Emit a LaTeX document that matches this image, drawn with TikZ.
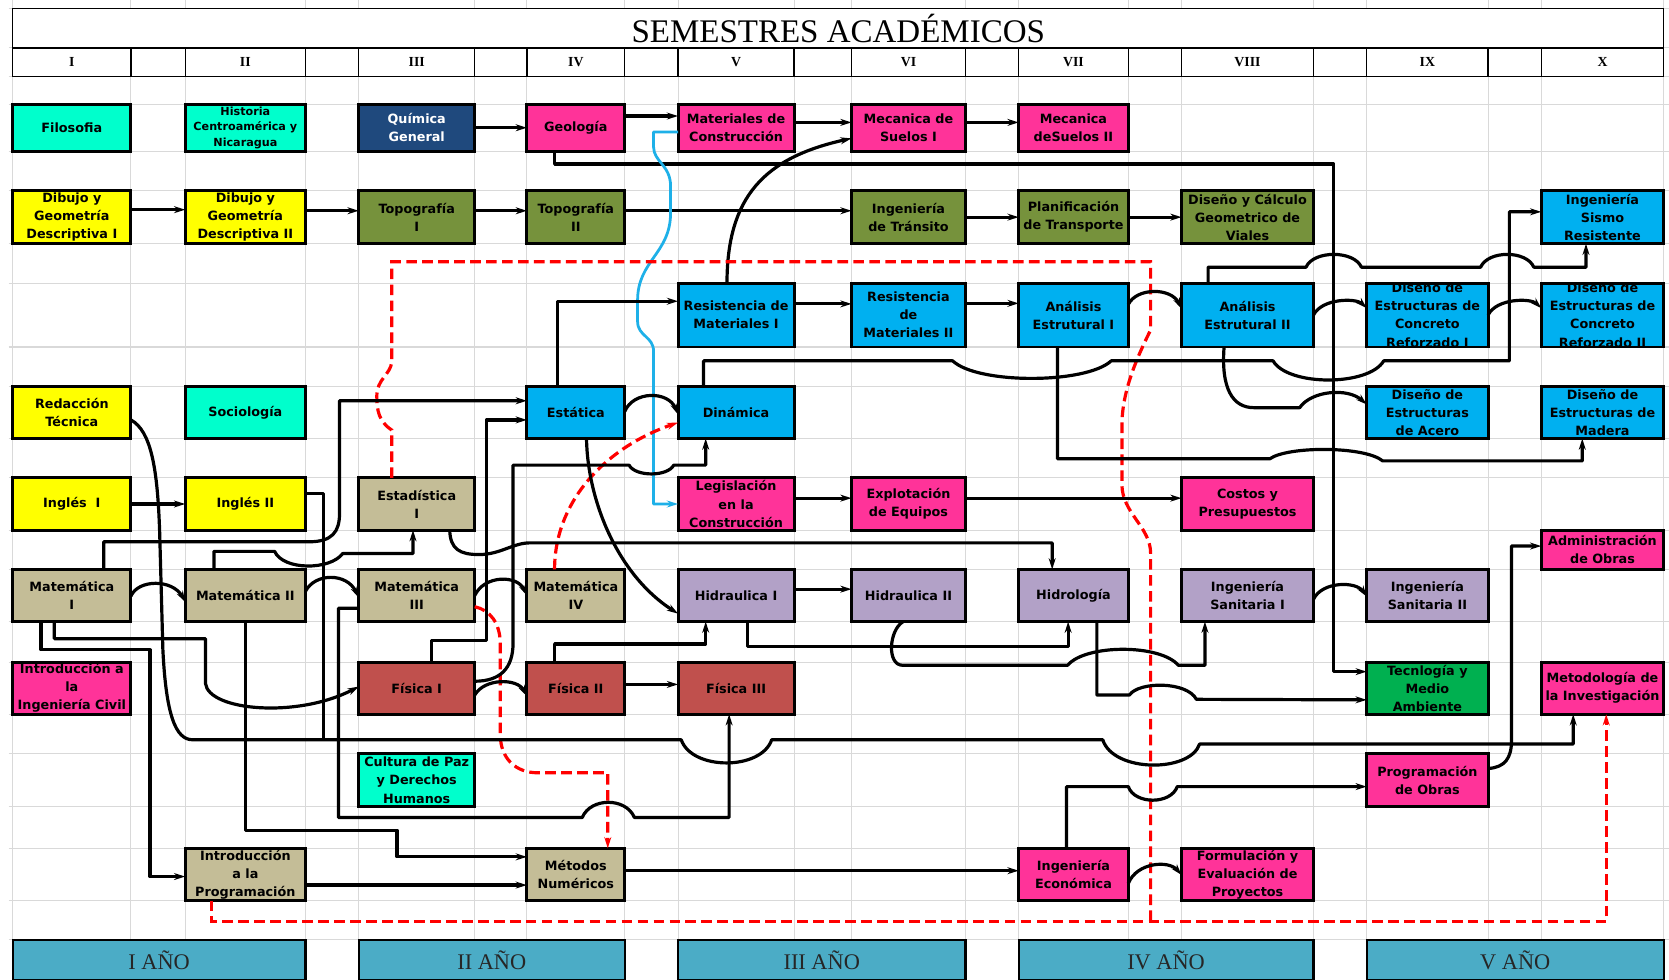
\documentclass[tikz,border=0pt]{standalone}
\usepackage{fontspec}
\setmainfont{Liberation Serif}
\newfontfamily\boxfont{DejaVu Sans}
\usetikzlibrary{arrows.meta}

\begin{document}
\begin{tikzpicture}[x=1pt,y=1pt,>={Stealth[length=10.5pt,width=6.5pt]},
  link/.style={line width=3pt,line join=round},
  reddash/.style={draw=red,line width=3pt,dash pattern=on 10pt off 5pt},
  cablelink/.style={draw=cable,line width=2.6pt,line join=round},
  coursebox/.style={fill,inner sep=0pt,outer sep=0pt},
  courseframe/.style={line width=2.8pt},
  coursetext/.style={align=center,inner sep=0pt,
    font=\boxfont\bfseries\fontsize{12}{17}\selectfont},
  semester/.style={font=\bfseries\fontsize{13}{13}\selectfont},
  yearbar/.style={draw,line width=2pt,fill=yearband,inner sep=0pt,
    minimum height=38pt,font=\fontsize{21}{21}\selectfont,text=black!85},
  gridline/.style={draw=gridgray,line width=1pt}]
\definecolor{humanities}{RGB}{0,255,204}
\definecolor{chemistry}{RGB}{31,73,125}
\definecolor{management}{RGB}{255,51,153}
\definecolor{drawing}{RGB}{255,255,0}
\definecolor{survey}{RGB}{118,146,60}
\definecolor{structures}{RGB}{0,176,240}
\definecolor{mathcol}{RGB}{196,189,151}
\definecolor{hydraulics}{RGB}{178,161,199}
\definecolor{physics}{RGB}{192,80,77}
\definecolor{environment}{RGB}{0,176,80}
\definecolor{yearband}{RGB}{75,172,198}
\definecolor{gridgray}{RGB}{217,217,217}
\definecolor{cable}{RGB}{30,176,232}

% #2 name, #3-#6 cell corners, #7 fill, #8 text
\newcommand{\course}[8][]{
  \node[coursebox,fill=#7,minimum width={(#5-#3)*1pt},minimum height={(#6-#4)*1pt}]
    (#2) at ({(#3+#5)/2},{-(#4+#6)/2}) {};
  \begin{scope}
    \clip (#2.south west) rectangle (#2.north east);
    \node[coursetext,#1] (#2-text) at (#2.center) {#8};
  \end{scope}
  \draw[courseframe] (#2.south west) rectangle (#2.north east);
}

\useasboundingbox (0,0) rectangle (1568,-920);
\fill[white] (0,0) rectangle (1568,-920);

% sheet grid
\foreach \xx in {12,123,174,287,337,446,495,587,637,746,800,907,957,1060,1110,1234,1284,1398,1448,1563}
  \draw[gridline] (\xx,0) -- (\xx,-920);
\foreach \yy in {8,45,72,98,142,179,229,266,326,363,412,449,498,535,584,622,671,708,758,797,846,883}
  \draw[gridline] (8,-\yy) -- (1568,-\yy);

% title and semester row
\draw[line width=1.2pt,fill=white] (12,-8) rectangle (1563,-72);
\draw[line width=1.2pt] (12,-45) -- (1563,-45);
\foreach \xx in {123,174,287,337,446,495,587,637,746,800,907,957,1060,1110,1234,1284,1398,1448}
  \draw[line width=1.2pt] (\xx,-45) -- (\xx,-72);
\node[font=\fontsize{31}{31}\selectfont] (title) at (787.5,-27) {SEMESTRES ACADÉMICOS};
\foreach \num/\xx in {I/67.5,II/230.5,III/391.5,IV/541,V/691.5,VI/853.5,VII/1008.5,VIII/1172,IX/1341,X/1505.5}
  \node[semester] (sem\num) at (\xx,-58.5) {\num};

% courses, row by row
\course{filo}{12}{98}{123}{142}{humanities}{Filosofia}
\course[font=\boxfont\bfseries\fontsize{10.5}{14.5}\selectfont]{hist}{174}{98}{287}{142}{humanities}{Historia\\Centroamérica y\\Nicaragua}
\course[text=white]{quim}{337}{98}{446}{142}{chemistry}{Química\\General}
\course{geol}{495}{98}{587}{142}{management}{Geología}
\course{matc}{637}{98}{746}{142}{management}{Materiales de\\Construcción}
\course{ms1}{800}{98}{907}{142}{management}{Mecanica de\\Suelos I}
\course{ms2}{957}{98}{1060}{142}{management}{Mecanica\\deSuelos II}

\course{dib1}{12}{179}{123}{229}{drawing}{Dibujo y\\Geometría\\Descriptiva I}
\course{dib2}{174}{179}{287}{229}{drawing}{Dibujo y\\Geometría\\Descriptiva II}
\course{top1}{337}{179}{446}{229}{survey}{Topografía\\I}
\course{top2}{495}{179}{587}{229}{survey}{Topografía\\II}
\course{trans}{800}{179}{907}{229}{survey}{Ingeniería\\de Tránsito}
\course{plan}{957}{179}{1060}{229}{survey}{Planificación\\de Transporte}
\course{vial}{1110}{179}{1234}{229}{survey}{Diseño y Cálculo\\Geometrico de\\Viales}
\course{sismo}{1448}{179}{1563}{229}{structures}{Ingeniería\\Sismo\\Resistente}

\course{rm1}{637}{266}{746}{326}{structures}{Resistencia de\\Materiales I}
\course{rm2}{800}{266}{907}{326}{structures}{Resistencia\\de\\Materiales II}
\course{ae1}{957}{266}{1060}{326}{structures}{Análisis\\Estrutural I}
\course{ae2}{1110}{266}{1234}{326}{structures}{Análisis\\Estrutural II}
\course{dc1}{1284}{266}{1398}{326}{structures}{Diseño de\\Estructuras de\\Concreto\\Reforzado I}
\course{dc2}{1448}{266}{1563}{326}{structures}{Diseño de\\Estructuras de\\Concreto\\Reforzado II}

\course{red}{12}{363}{123}{412}{drawing}{Redacción\\Técnica}
\course{soc}{174}{363}{287}{412}{humanities}{Sociología}
\course{esta}{495}{363}{587}{412}{structures}{Estática}
\course{dina}{637}{363}{746}{412}{structures}{Dinámica}
\course{acero}{1284}{363}{1398}{412}{structures}{Diseño de\\Estructuras\\de Acero}
\course{madera}{1448}{363}{1563}{412}{structures}{Diseño de\\Estructuras de\\Madera}

\course{ing1}{12}{449}{123}{498}{drawing}{Inglés\ \ I}
\course{ing2}{174}{449}{287}{498}{drawing}{Inglés II}
\course{est1}{337}{449}{446}{498}{mathcol}{Estadística\\I}
\course{legis}{637}{449}{746}{498}{management}{Legislación\\en la\\Construcción}
\course{explo}{800}{449}{907}{498}{management}{Explotación\\de Equipos}
\course{costos}{1110}{449}{1234}{498}{management}{Costos y\\Presupuestos}
\course{admin}{1448}{498}{1563}{535}{management}{Administración\\de Obras}

\course{mat1}{12}{535}{123}{584}{mathcol}{Matemática\\I}
\course{mat2}{174}{535}{287}{584}{mathcol}{Matemática II}
\course{mat3}{337}{535}{446}{584}{mathcol}{Matemática\\III}
\course{mat4}{495}{535}{587}{584}{mathcol}{Matemática\\IV}
\course{hid1}{637}{535}{746}{584}{hydraulics}{Hidraulica I}
\course{hid2}{800}{535}{907}{584}{hydraulics}{Hidraulica II}
\course{hidro}{957}{535}{1060}{584}{hydraulics}{Hidrología}
\course{san1}{1110}{535}{1234}{584}{hydraulics}{Ingeniería\\Sanitaria I}
\course{san2}{1284}{535}{1398}{584}{hydraulics}{Ingeniería\\Sanitaria II}

\course{iic}{12}{622}{123}{671}{management}{Introducción a\\la\\Ingeniería Civil}
\course{fis1}{337}{622}{446}{671}{physics}{Física I}
\course{fis2}{495}{622}{587}{671}{physics}{Física II}
\course{fis3}{637}{622}{746}{671}{physics}{Física III}
\course{tecno}{1284}{622}{1398}{671}{environment}{Tecnlogía y\\Medio\\Ambiente}
\course{metod}{1448}{622}{1563}{671}{management}{Metodología de\\la Investigación}

\course{paz}{337}{708}{446}{758}{humanities}{Cultura de Paz\\y Derechos\\Humanos}
\course{progo}{1284}{708}{1398}{758}{management}{Programación\\de Obras}

\course{iprog}{174}{797}{287}{846}{mathcol}{Introducción\\a la\\Programación}
\course{metnum}{495}{797}{587}{846}{mathcol}{Métodos\\Numéricos}
\course{ieco}{957}{797}{1060}{846}{management}{Ingeniería\\Económica}
\course{formu}{1110}{797}{1234}{846}{management}{Formulación y\\Evaluación de\\Proyectos}

% year bands
\foreach \yr/\xa/\xb in {I/12/287,II/337/587,III/637/907,IV/957/1234,V/1284/1563}
  \node[yearbar,minimum width={(\xb-\xa)*1pt}] (year\yr) at ({(\xa+\xb)/2},-902) {\yr\ AÑO};

% first row chain and the geology line down to the environment course
\draw[link,->] (quim.east) -- (geol.west);
\draw[link,->] ([yshift=11pt]geol.east) -- ([yshift=11pt]matc.west);
\draw[link,->] ([yshift=5pt]matc.east) -- ([yshift=5pt]ms1.west);
\draw[link,->] ([yshift=5pt]ms1.east) -- ([yshift=5pt]ms2.west);
\draw[link,->] ([xshift=-20pt]geol.south) |- (1253,-154) |- ([yshift=15.5pt]tecno.west);

% drawing and surveying
\draw[link,->] ([yshift=7pt]dib1.east) -- ([yshift=7pt]dib2.west);
\draw[link,->] ([yshift=6pt]dib2.east) -- ([yshift=6pt]top1.west);
\draw[link,->] ([yshift=6pt]top1.east) -- ([yshift=6pt]top2.west);
\draw[link,->] ([yshift=6pt]top2.east) -- ([yshift=6pt]trans.west);
\draw[link,->] (trans.east) -- (plan.west);
\draw[link,->] (plan.east) -- (vial.west);

% materials
\draw[link,->] ([xshift=-8.5pt]rm1.north) .. controls (683,-185) and (718,-148) .. ([yshift=-10pt]ms1.west);
\draw[cablelink,->] ([yshift=-4pt]matc.west) -| (614,-138)
  .. controls (614,-152) and (630,-155) .. (630,-175) -- (630,-200)
  .. controls (630,-238) and (599,-245) .. (599,-282) -- (599,-302)
  .. controls (599,-316) and (614,-316) .. (614,-330) |- (legis.west);

% dashed links
\coordinate (redjoin) at (1081,-866);
\draw[reddash] ([xshift=-23.5pt]est1.north) -- (368,-404)
  .. controls (356,-396) and (354,-386) .. (354,-372)
  .. controls (354,-356) and (367,-352) .. (368,-340) |- (1081,-246) -- (1081,-310)
  .. controls (1066,-340) and (1054,-370) .. (1054,-400) -- (1054,-455)
  .. controls (1054,-482) and (1081,-495) .. (1081,-520) -- (redjoin);
\draw[reddash,->] ([xshift=-31.5pt]iprog.south) |- (redjoin) -| ([xshift=3.5pt]metod.south);
\draw[reddash,->] ([yshift=-10.5pt]mat3.east) .. controls (460,-573) and (470,-585) .. (470,-605)
  -- (470,-690) .. controls (470,-713) and (485,-726) .. (505,-726) -| ([xshift=30pt]metnum.north);
\draw[reddash,->] ([xshift=-20pt]mat4.north) .. controls (521,-470) and (570,-420) .. ([yshift=-9.5pt]dina.west);

% languages, mathematics and physics
\draw[link,->] (ing1.east) -- (ing2.west);
\draw[link,->] ([yshift=-0.5pt]mat1.east) .. controls (130,-544) and (162,-544) .. ([yshift=-6pt]mat2.west);
\draw[link,->] ([yshift=4pt]mat2.east) .. controls (296,-538) and (326,-538) .. ([yshift=-2pt]mat3.west);
\draw[link,->] (mat3.east) .. controls (455,-540) and (486,-540) .. (mat4.west);
\draw[link,->] ([yshift=1pt]esta.east) .. controls (595,-367) and (628,-367) .. ([yshift=-2pt]dina.west);
\draw[link,->] ([yshift=-6.5pt]fis1.east) .. controls (455,-637) and (486,-637) .. ([yshift=-7.5pt]fis2.west);
\draw[link,->] ([yshift=3.5pt]fis2.east) -- ([yshift=3.5pt]fis3.west);
\draw[link,->] ([xshift=30pt]mat1.north) |- (290,-509) .. controls (312,-509) and (319,-500) .. (319,-482) |- ([yshift=11pt]esta.west);
\draw[link,->] ([xshift=-29.5pt]mat2.north) |- (258,-518) .. controls (266,-536) and (310,-536) .. (322,-520) -| ([xshift=-3.5pt]est1.south);
\draw[link,->] ([xshift=31pt]est1.south) .. controls (423,-516) and (432,-521) .. (450,-521)
  .. controls (470,-521) and (482,-510) .. (498,-510) -| ([xshift=-20pt]hidro.north);
\draw[link,->] ([xshift=-16.5pt]mat1.south) |- (193,-600) -- (193,-642)
  .. controls (196,-668) and (280,-675) .. ([yshift=1.5pt]fis1.west);
\draw[link,->] ([xshift=-29pt]mat1.south) |- (141,-610.5) |- ([yshift=-2pt]iprog.west);
\draw[link,->] (mat2.south) |- (373,-780) |- ([yshift=16.5pt]metnum.west);
\draw[link,->] ([yshift=-12pt]mat3.west) -| (318,-768) -- (547,-768)
  .. controls (555,-749) and (588,-749) .. (596,-768) -| ([xshift=-6.5pt]fis3.south);
\draw[link,->] ([xshift=14pt]fis1.north) |- (457,-602) |- ([yshift=-7pt]esta.west);
\draw[link,->] ([yshift=6.5pt]fis1.east) .. controls (470,-640) and (482,-628) .. (482,-604)
  |- (591,-437) .. controls (597,-448) and (627,-448) .. (633,-437) -| ([xshift=-28.5pt]dina.south);
\draw[link,->] ([xshift=-20pt]fis2.north) |- (663,-605) -- ([xshift=-28.5pt]hid1.south);
\draw[link,->] ([xshift=10pt]esta.south) .. controls (552,-470) and (580,-540) .. ([yshift=-17pt]hid1.west);
\draw[link,->] ([xshift=-17pt]esta.north) |- ([yshift=13pt]rm1.west);

% writing and english into research methods
\draw[link,->] ([yshift=-7pt]red.east) .. controls (142,-405) and (148,-440) .. (150,-500) -- (153,-610)
  .. controls (156,-672) and (165,-695) .. (181,-695) -- (640,-695)
  .. controls (650,-724) and (715,-724) .. (725,-695) -- (1036,-695)
  .. controls (1046,-726) and (1118,-726) .. (1127,-699) -| ([xshift=-27.5pt]metod.south);
\draw[link] ([yshift=10pt]ing2.east) -| (304,-695);

% structures
\draw[link,->] ([yshift=10.5pt]rm1.east) -- ([yshift=10.5pt]rm2.west);
\draw[link,->] ([yshift=11pt]rm2.east) -- ([yshift=11pt]ae1.west);
\draw[link,->] ([yshift=10pt]ae1.east) .. controls (1068,-270) and (1100,-270) .. ([yshift=6pt]ae2.west);
\draw[link,->] (ae2.east) .. controls (1242,-280) and (1274,-280) .. ([yshift=6.5pt]dc1.west);
\draw[link,->] (dc1.east) .. controls (1406,-280) and (1438,-280) .. ([yshift=6.5pt]dc2.west);
\draw[link,->] ([xshift=-37pt]ae2.north) |- (1227,-251) .. controls (1234,-235) and (1272,-235) .. (1279,-251)
  -- (1391,-251) .. controls (1398,-235) and (1434,-235) .. (1441,-251) -| ([xshift=-15.5pt]sismo.south);
\draw[link,->] ([xshift=-30.5pt]dina.north) |- (895,-339) .. controls (918,-361) and (1020,-361) .. (1044,-339)
  -- (1196,-339) .. controls (1210,-363) and (1286,-363) .. (1300,-339) -- (1418,-339) |- ([yshift=5pt]sismo.west);
\draw[link,->] ([xshift=-15pt]ae1.south) |- (1193,-431) .. controls (1210,-419) and (1282,-419) .. (1299,-433)
  -| ([xshift=-19pt]madera.south);
\draw[link,->] ([xshift=-22pt]ae2.south) .. controls (1147,-365) and (1158,-383) .. (1178,-383) -- (1221,-383)
  .. controls (1232,-367) and (1266,-364) .. ([yshift=7.5pt]acero.west);

% hydraulics
\draw[link,->] ([yshift=6pt]hid1.east) -- ([yshift=6pt]hid2.west);
\draw[link,->] ([xshift=10.5pt]hid1.south) |- (1003.5,-607) -- ([xshift=-5pt]hidro.south);
\draw[link,->] ([xshift=-5pt]hid2.south) .. controls (835,-592) and (833,-625) .. (848,-625) -- (1003,-625)
  .. controls (1020,-605) and (1090,-605) .. (1107,-625) -| ([xshift=-40pt]san1.south);
\draw[link,->] ([xshift=22pt]hidro.south) |- (1061,-653) .. controls (1070,-640) and (1115,-640) .. (1124,-657)
  -- ([yshift=-11pt]tecno.west);
\draw[link,->] ([yshift=-3.5pt]san1.east) .. controls (1242,-546) and (1274,-546) .. ([yshift=-1pt]san2.west);

% management
\draw[link,->] ([yshift=5.5pt]legis.east) -- ([yshift=5.5pt]explo.west);
\draw[link,->] ([yshift=5.5pt]explo.east) -- ([yshift=5.5pt]costos.west);
\draw[link,->] ([yshift=-10pt]iprog.east) -- ([yshift=-10pt]metnum.west);
\draw[link,->] ([yshift=3.5pt]metnum.east) -- ([yshift=3.5pt]ieco.west);
\draw[link,->] ([yshift=-8.5pt]ieco.east) .. controls (1068,-810) and (1098,-808) .. ([yshift=-0.5pt]formu.west);
\draw[link,->] ([xshift=-6.5pt]ieco.north) |- (1060,-739) .. controls (1066,-756) and (1100,-756) .. (1106,-739)
  -- ([yshift=-6pt]progo.west);
\draw[link,->] ([yshift=11pt]progo.east) .. controls (1414,-721) and (1420,-712) .. (1420,-696) |- ([yshift=3.5pt]admin.west);
\end{tikzpicture}
\end{document}
